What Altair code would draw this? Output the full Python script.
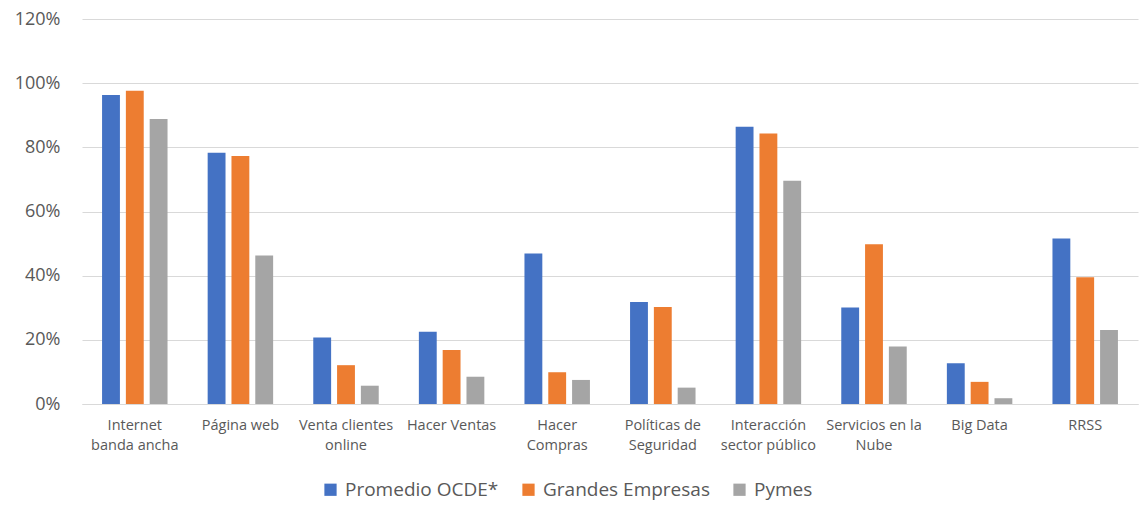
import altair as alt
import pandas as pd

categories = [
    "Internet\nbanda ancha",
    "Página web",
    "Venta clientes\nonline",
    "Hacer Ventas",
    "Hacer\nCompras",
    "Políticas de\nSeguridad",
    "Interacción\nsector público",
    "Servicios en la\nNube",
    "Big Data",
    "RRSS",
]
series = ["Promedio OCDE*", "Grandes Empresas", "Pymes"]
promedio_ocde = [96.3, 78.3, 20.7, 22.5, 46.9, 31.8, 86.4, 30.1, 12.7, 51.6]
grandes_empresas = [97.6, 77.3, 12.1, 16.8, 9.9, 30.2, 84.3, 49.8, 6.9, 39.5]
pymes = [88.8, 46.3, 5.7, 8.5, 7.5, 5.1, 69.6, 17.9, 1.8, 23.1]
colors = ["#4472C4", "#ED7D31", "#A5A5A5"]

rows = []
for s, vals in zip(series, [promedio_ocde, grandes_empresas, pymes]):
    for c, v in zip(categories, vals):
        rows.append({"categoria": c, "serie": s, "valor": v})
df = pd.DataFrame(rows)

font = "Open Sans"

chart = (
    alt.Chart(df)
    .mark_bar()
    .encode(
        x=alt.X(
            "categoria:N",
            sort=categories,
            title=None,
            scale=alt.Scale(paddingInner=0.38, paddingOuter=0.19),
            axis=alt.Axis(
                labelExpr="split(datum.label, '\\n')",
                labelAngle=0,
                labelFontSize=14.5,
                labelColor="#595959",
                labelFont=font,
                labelLineHeight=20,
                labelPadding=14,
                labelOverlap=False,
                ticks=False,
                domainColor="#D9D9D9",
                domainWidth=1,
                grid=False,
            ),
        ),
        xOffset=alt.XOffset(
            "serie:N", sort=series, scale=alt.Scale(paddingInner=0.25, paddingOuter=0)
        ),
        y=alt.Y(
            "valor:Q",
            title=None,
            scale=alt.Scale(domain=[0, 120], nice=False),
            axis=alt.Axis(
                values=[0, 20, 40, 60, 80, 100, 120],
                labelExpr="datum.value + '%'",
                labelFontSize=18,
                labelColor="#595959",
                labelFont=font,
                labelPadding=22,
                ticks=False,
                domain=False,
                gridColor="#D9D9D9",
                gridWidth=1,
            ),
        ),
        color=alt.Color(
            "serie:N",
            sort=series,
            scale=alt.Scale(domain=series, range=colors),
            legend=alt.Legend(
                title=None,
                orient="none",
                direction="horizontal",
                legendX=239,
                legendY=461,
                symbolType="square",
                symbolSize=150,
                symbolStrokeWidth=0,
                labelFontSize=19,
                labelLimit=400,
                labelColor="#595959",
                labelFont=font,
                columnPadding=20,
                labelOffset=5,
            ),
        ),
    )
    .properties(
        width=1056,
        height=385,
        padding={"left": 82, "top": 19, "right": 5, "bottom": 101},
        autosize=alt.AutoSizeParams(type="none"),
        view=alt.ViewBackground(strokeWidth=0, strokeOpacity=0),
    )
    .configure_view(strokeWidth=0, strokeOpacity=0)
    .configure_axisX(grid=False)
    .configure(background="white")
)

chart.save("out.html", embed_options={"renderer": "svg", "actions": False})
